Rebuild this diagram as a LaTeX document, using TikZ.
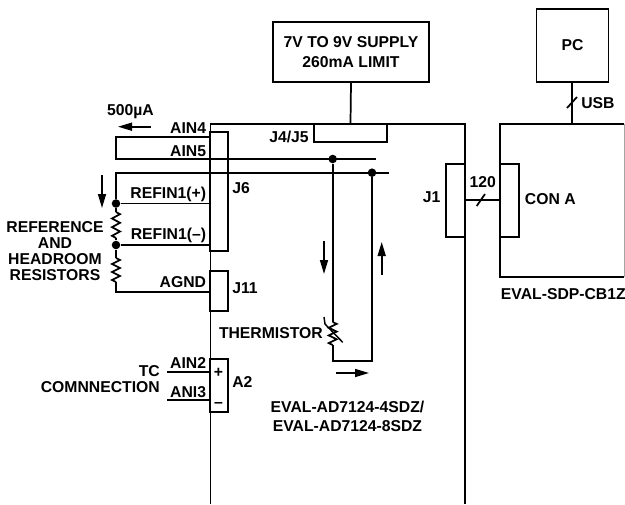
\documentclass[tikz,border=0pt]{standalone}
\usepackage{fontspec}
\setmainfont{Liberation Sans}
\usetikzlibrary{arrows.meta}
\begin{document}
\begin{tikzpicture}[x=0.75pt, y=-0.75pt,
    wire/.style={line width=1.3pt, line cap=butt, line join=miter},
    flow/.style={line width=1.2pt, -{Triangle[length=10.5pt,width=6pt]}},
    box/.style={draw, line width=1.3pt, inner sep=0pt, align=center, font=\bfseries\fontsize{11.8}{15}\selectfont},
    size/.style 2 args={minimum width=#1*0.75pt, minimum height=#2*0.75pt},
    lab/.style={inner sep=0pt, text height=8.3pt, text depth=0pt, font=\bfseries\fontsize{11.8}{12}\selectfont},
    labr/.style={lab, anchor=east},
    labl/.style={lab, anchor=west},
    block/.style={inner sep=0pt, align=center, font=\bfseries\fontsize{11.8}{12}\selectfont},
    dot/.style={circle, fill, inner sep=0pt, minimum size=6.4pt}]
  % A resistor going down from #1: #2 = length of one tooth.
  \newcommand{\zigres}[2]{%
    \draw[wire] #1 -- ++(4,#2/2) -- ++(-8,#2) -- ++(8,#2) -- ++(-8,#2) -- ++(8,#2)
      -- ++(-8,#2) -- ++(4,#2/2);}

  \useasboundingbox (0,0) rectangle (625,504);

  % boards
  \coordinate (boardtl) at (210.5,124);  \coordinate (boardtr) at (465,124);
  \coordinate (boardbl) at (210.5,504);  \coordinate (boardbr) at (465,504);
  \draw[wire] (boardbl) -- (boardtl) -- (boardtr) -- (boardbr);
  \coordinate (sdptl) at (500,124);      \coordinate (sdpbl) at (500,276.7);
  \coordinate (sdptr) at (624.4,124);    \coordinate (sdpbr) at (624.4,276.7);
  \draw[wire] (sdptr) -- (sdptl) -- (sdpbl) -- (sdpbr);
  \draw[line width=0.4pt, black!35] (sdptr) -- (sdpbr);

  % supply and connectors
  \node[box, size={156}{60}] (supply) at (351,52) {7V TO 9V SUPPLY\\260mA LIMIT};
  \node[box, size={72}{73}] (pc) at (572.5,45.2) {PC};
  \node[box, size={73}{18}] (jfour) at (350.5,133) {};
  \node[box, size={18}{119.5}] (jsix) at (219.2,191.5) {};
  \node[box, size={18}{40}] (jeleven) at (219.2,290.7) {};
  \node[box, size={18}{53}] (atwo) at (219.2,385.5) {};
  \node[box, size={19}{73}] (jone) at (455.5,200.2) {};
  \node[box, size={19}{73}] (cona) at (509.5,200.2) {};
  \draw[wire] (supply.south) -- (jfour.north);
  \coordinate (usbend) at (572.3,124);
  \draw[wire] (pc.south -| usbend) -- (usbend);
  \draw[wire] (567,108) -- (577,97);
  \draw[wire] (jone.east) -- (cona.west);
  \draw[wire] (476.7,206) -- (485,194);

  % reference path
  \coordinate (ainfiveb) at (116,137);   \coordinate (ainfivec) at (116,159);
  \coordinate (ainfivea) at (210.5,137); \coordinate (ainfived) at (376,159);
  \draw[wire] (ainfivea) -- (ainfiveb) -- (ainfivec) -- (ainfived);
  \coordinate (reftop) at (116,172.7);   \coordinate (refend) at (389,172.7);
  \coordinate (refpos) at (210.5,203.5); \coordinate (refneg) at (210.5,245);
  \coordinate (agnd) at (210.5,291.7);   \coordinate (agndb) at (116,291.7);
  \node[dot] (dotpos) at (116,203.5) {};
  \node[dot] (dotneg) at (116,245) {};
  \coordinate (resa) at (116,212);       \coordinate (resb) at (116,238);
  \coordinate (resc) at (116,258);       \coordinate (resd) at (116,282);
  \draw[wire] (refend) -- (reftop) -- (dotpos) -- (resa);
  \draw[wire] (refpos) -- (dotpos);
  \zigres{(resa)}{4.33}
  \draw[wire] (resb) -- (dotneg) -- (resc);
  \draw[wire] (refneg) -- (dotneg);
  \zigres{(resc)}{4}
  \draw[wire] (resd) -- (agndb) -- (agnd);

  % thermistor loop
  \node[dot] (dotleft) at (332.7,159) {};
  \node[dot] (dotright) at (372,172.7) {};
  \coordinate (thtop) at (332.7,322);    \coordinate (thbot) at (332.7,345);
  \coordinate (loopl) at (332.7,361);    \coordinate (loopr) at (372,361);
  \draw[wire] (dotleft) -- (thtop);
  \zigres{(thtop)}{3.83}
  \draw[wire] (thbot) -- (loopl) -- (loopr) -- (dotright);
  \draw[line width=1.1pt] (324,317) -- (325,324) -- (342.7,342.3);

  % thermocouple leads
  \coordinate (aintwo) at (210.5,372);   \coordinate (aintwob) at (167,372);
  \coordinate (ainthree) at (210.5,400); \coordinate (ainthreeb) at (167,400);
  \draw[wire] (aintwob) -- (aintwo);
  \draw[wire] (ainthreeb) -- (ainthree);

  % current arrows
  \draw[flow] (151,126.7) -- (118,126.7);
  \draw[flow] (102,175) -- (102,208);
  \draw[flow] (324,241) -- (324,274);
  \draw[flow] (381.7,275) -- (381.7,242);
  \draw[flow] (336,373) -- (369,373);

  % labels
  \node[lab] (lbluA) at (130.5,110) {500µA};
  \node[labr] (lblainfour) at (206.3,127.7) {AIN4};
  \node[labr] (lblainfive) at (206.3,151) {AIN5};
  \node[labr] (lblrefpos) at (206.3,192.7) {REFIN1(+)};
  \node[labr] (lblrefneg) at (206.3,234) {REFIN1(–)};
  \node[labr] (lblagnd) at (206.3,282) {AGND};
  \node[labl] (lbljsix) at (232,187.7) {J6};
  \node[labl] (lbljeleven) at (232,288) {J11};
  \node[block] (lblres) at (55,251) {REFERENCE\\AND\\HEADROOM\\RESISTORS};
  \node[labr] (lblther) at (323,333) {THERMISTOR};
  \node[block, align=right, anchor=east] (lbltc) at (160,379.5) {TC\\COMNNECTION};
  \node[labr] (lblaintwo) at (206.3,363) {AIN2};
  \node[labr] (lblainthree) at (206.3,391.7) {ANI3};
  \node[lab] (lblplus) at (218.5,372) {+};
  \node[lab] (lblminus) at (218.5,401.7) {–};
  \node[labl] (lblatwo) at (232,381.7) {A2};
  \node[block, font=\bfseries\fontsize{11.8}{14.25}\selectfont] (lbleval) at (347.5,416.2) {EVAL-AD7124-4SDZ/\\EVAL-AD7124-8SDZ};
  \node[labl] (lblusb) at (581,102.7) {USB};
  \node[labr] (lbljfour) at (309,137) {J4/J5};
  \node[labr] (lbljone) at (440.7,196.7) {J1};
  \node[lab] (lblcount) at (482.7,181.7) {120};
  \node[labl] (lblcona) at (524.7,199) {CON A};
  \node[labl] (lblsdp) at (500.7,294) {EVAL-SDP-CB1Z};
\end{tikzpicture}
\end{document}
